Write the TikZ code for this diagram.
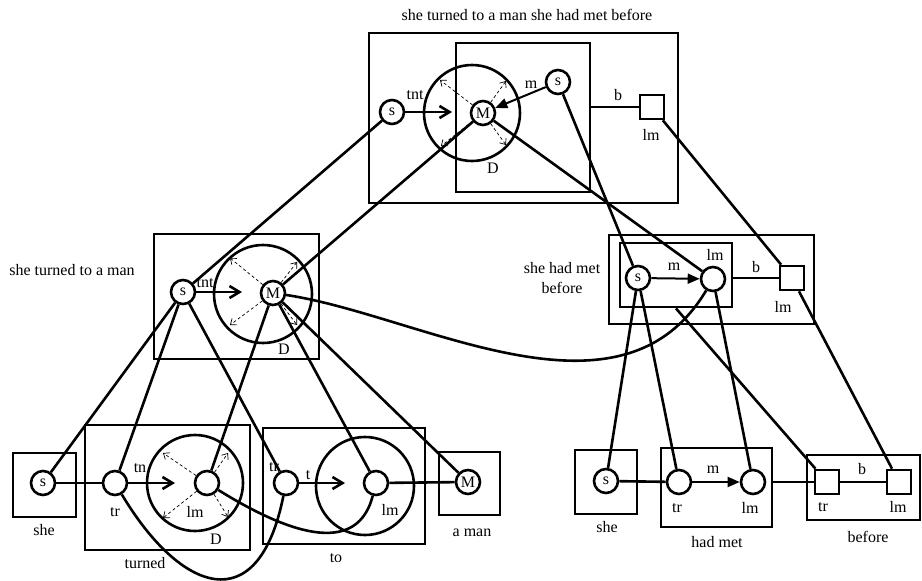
\documentclass[tikz,border=0pt]{standalone}
\usepackage{fontspec}
\setmainfont{Liberation Serif}
\usetikzlibrary{arrows.meta,fit}

\begin{document}
\begin{tikzpicture}[x=1pt,y=-1pt,
  every node/.style={font=\fontsize{16}{20}\selectfont, inner sep=0pt},
  ln/.style={line width=2.6pt},
  box/.style={draw, line width=2.9pt, inner sep=0pt},
  dot/.style={draw, circle, line width=2.6pt, minimum size=24pt},
  sq/.style={draw, rectangle, line width=2.6pt, minimum size=24pt},
  ring/.style={draw, circle, line width=2.6pt},
  bigarr/.style={line width=2.6pt, -{Straight Barb[length=10pt,width=12pt,line width=2.6pt]}},
  filarr/.style={line width=2pt, -{Triangle[length=12pt,width=10pt]}},
  dsh/.style={line width=0.7pt, dash pattern=on 3pt off 2.5pt,
    -{Straight Barb[length=5pt,width=8pt,line width=0.7pt]}}
]
\useasboundingbox (0,0) rectangle (922,581);

% ---------- whole sentence ----------
\node (title) at (527,15) {she turned to a man she had met before};
\node[box, fit={(369,33) (678,203)}] (tOut) {};
\node[box, fit={(456,43) (590,192)}] (tIn) {};
\node[ring, minimum size=96pt] (tD) at (472,113) {};
\node[dot] (tS) at (392,112) {s};
\node[dot] (tM) at (483,113) {M};
\node[dot] (tS2) at (558,82) {s};
\node[sq] (tLm) at (652,107) {};
\node (tTnt) at (415,95) {tnt};
\node (tMl) at (531,85) {m};
\node (tDl) at (493,168) {D};
\node (tB) at (618,95) {b};
\node (tLml) at (651,135) {lm};
\draw[bigarr] (tS) -- ++(60,0);
\draw[filarr] (tS2) -- (tM);
\draw[dsh] (tM) -- ++(-43,-33);
\draw[dsh] (tM) -- ++(23,-32);
\draw[dsh] (tM) -- ++(-42,33);
\draw[dsh] (tM) -- ++(23,32);
\draw[ln] (tIn.east |- tLm) -- (tLm);

% ---------- she turned to a man ----------
\node (mlTitle) at (72,270) {she turned to a man};
\node[box, fit={(154,234) (319,359)}] (mlBox) {};
\node[ring, minimum size=98pt] (mD) at (263,294) {};
\node[dot] (mS) at (183,292) {s};
\node[dot] (mM) at (273,293) {M};
\node (mTnt) at (205,283) {tnt};
\node (mDl) at (284,349) {D};
\draw[bigarr] (mS) -- ++(59,0);
\draw[dsh] (mM) -- ++(-43,-35);
\draw[dsh] (mM) -- ++(24,-31);
\draw[dsh] (mM) -- ++(-43,32);
\draw[dsh] (mM) -- ++(24,32);

% ---------- she had met before ----------
\node[align=center] (mrTitle) at (562,278) {she had met\\before};
\node[box, fit={(609,235) (814,324)}] (mrOut) {};
\node[box, fit={(620,243) (732,307)}] (mrIn) {};
\node[dot] (rS) at (638,278) {s};
\node[dot] (rLm) at (713,279) {};
\node[sq] (rSq) at (792,278) {};
\node (rMl) at (674,267) {m};
\node (rLml) at (715,255) {lm};
\node (rB) at (756,267) {b};
\node (rSql) at (783,307) {lm};
\draw[filarr] (rS) -- (rLm);
\draw[ln] (mrIn.east |- rSq) -- (rSq);

% ---------- she / turned / to / a man ----------
\node[box, fit={(13,453) (76,517)}] (sheBox) {};
\node[dot] (bS) at (43,483) {s};
\node (sheL) at (44,530) {she};

\node[box, fit={(85,425) (250,550)}] (turnedBox) {};
\node[ring, minimum size=96pt] (bD) at (195,483) {};
\node[dot] (bTr) at (115,483) {};
\node[dot] (bLm) at (207,483) {};
\node (bTrl) at (115,512) {tr};
\node (bLml) at (195,512) {lm};
\node (bTn) at (140,468) {tn};
\node (bDl) at (216,539) {D};
\node (turnedL) at (145,563) {turned};
\draw[bigarr] (bTr) -- ++(60,0);
\draw[dsh] (bLm) -- ++(-44,-30);
\draw[dsh] (bLm) -- ++(21,-30);
\draw[dsh] (bLm) -- ++(-44,35);
\draw[dsh] (bLm) -- ++(21,34);

\node[box, fit={(263,428) (425,544)}] (toBox) {};
\node[ring, minimum size=98pt] (oD) at (365,486) {};
\node[dot] (oTr) at (286,483) {};
\node[dot] (oLm) at (376,483) {};
\node (oTrl) at (274,467) {tr};
\node (oT) at (308,475) {t};
\node (oLml) at (390,510) {lm};
\node (toL) at (336,558) {to};
\draw[bigarr] (oTr) -- ++(59,0);

\node[box, fit={(439,452) (500,515)}] (amanBox) {};
\node[dot] (aM) at (468,482) {M};
\node (amanL) at (472,533) {a man};

\draw[ln] (bS) -- (bTr);
\draw[ln] (oLm) -- (aM);
\draw[ln] (bTr) .. controls (180,592) and (258,622) .. (oTr);
\draw[ln] (bLm) .. controls (270,522) and (355,565) .. (oLm);

% ---------- she / had met / before ----------
\node[box, fit={(575,450) (637,514)}] (she2Box) {};
\node[dot] (cS) at (606,481) {s};
\node (she2L) at (607,527) {she};

\node[box, fit={(661,448) (772,527)}] (hmBox) {};
\node[dot] (hTr) at (679,482) {};
\node[dot] (hLm) at (753,482) {};
\node (hTrl) at (677,508) {tr};
\node (hLml) at (750,508) {lm};
\node (hMl) at (713,470) {m};
\node (hmL) at (717,542) {had met};
\draw[filarr] (hTr) -- (hLm);

\node[box, fit={(807,455) (920,520)}] (bfBox) {};
\node[sq] (fTr) at (827,482) {};
\node[sq] (fLm) at (899,482) {};
\node (fB) at (862,469) {b};
\node (fTrl) at (823,507) {tr};
\node (fLml) at (898,507) {lm};
\node (bfL) at (868,537) {before};

\draw[ln] (cS) -- (hTr);
\draw[ln] (hmBox.east |- fTr) -- (fTr);
\draw[ln] (fTr) -- (fLm);

% ---------- links between levels ----------
\draw[ln] (tS) -- (mS);
\draw[ln] (tM) -- (mM);
\draw[ln] (tM) -- (rLm);
\draw[ln] (tS2) -- (rS);
\draw[ln] (tLm) -- (rSq);
\draw[ln] (rSq) -- (fLm);
\draw[ln] (mS) -- (bS);
\draw[ln] (mS) -- (bTr);
\draw[ln] (mS) -- (oTr);
\draw[ln] (mM) -- (bLm);
\draw[ln] (mM) -- (oLm);
\draw[ln] (mM) -- (aM);
\draw[ln] (mM) .. controls (420,315) and (620,435) .. (rLm);
\draw[ln] (rS) -- (cS);
\draw[ln] (rS) -- (hTr);
\draw[ln] (rLm) -- (hLm);
\draw[ln] (mrIn.south) -- (fTr);
\end{tikzpicture}
\end{document}
